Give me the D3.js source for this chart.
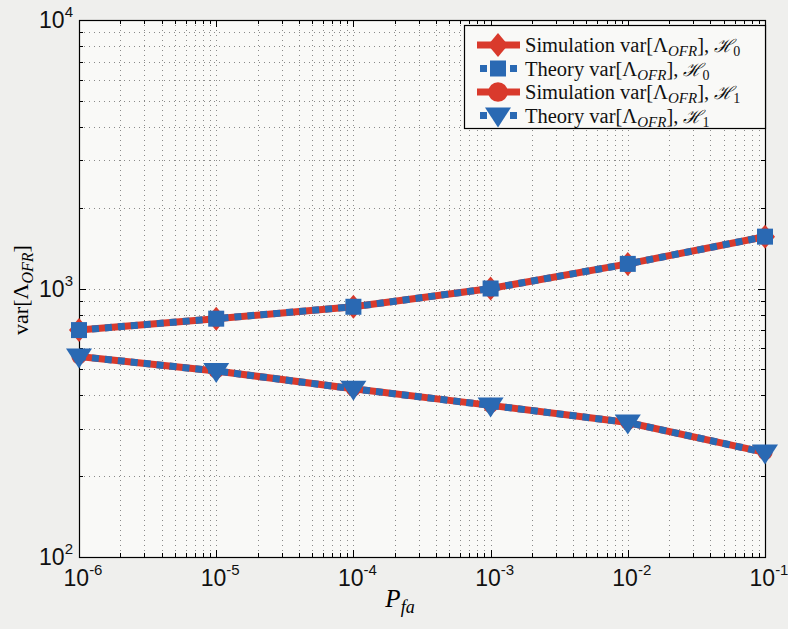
<!DOCTYPE html>
<html>
<head>
<meta charset="utf-8">
<script src="https://cdn.jsdelivr.net/npm/d3@7"></script>
<style>
  body { margin: 0; background: #efefed; }
  svg { display: block; }
</style>
</head>
<body>
<div class="chart"></div>
<script>
//Data
var pfa = [1e-6, 1e-5, 1e-4, 1e-3, 1e-2, 1e-1];
var simH0 = [700, 772, 855, 1000, 1235, 1560];
var theoryH0 = [700, 772, 855, 1000, 1235, 1560];
var simH1 = [558, 493, 423, 367, 317, 245];
var theoryH1 = [558, 493, 423, 367, 317, 245];
var xTickExp = [-6, -5, -4, -3, -2, -1];
var yTickExp = [2, 3, 4];

//Width and height
var w = 788;
var h = 629;
var plotL = 79, plotR = 765, plotT = 20, plotB = 557;

var red = "#d93a2c";
var blue = "#2a69b3";

var svg = d3.select(".chart")
    .append("svg")
    .attr("width", w)
    .attr("height", h);

//Scales
var xScale = d3.scaleLog().domain([1e-6, 1e-1]).range([plotL, plotR]);
var yScale = d3.scaleLog().domain([1e2, 1e4]).range([plotB, plotT]);

//Plot background
svg.append("rect")
    .attr("x", plotL).attr("y", plotT)
    .attr("width", plotR - plotL).attr("height", plotB - plotT)
    .attr("fill", "#f9f9f7");

//Minor and major values for the grid
var xAll = [];
for (var e = -6; e < -1; e++) for (var m = 1; m <= 9; m++) xAll.push(m * Math.pow(10, e));
xAll.push(1e-1);
var yAll = [];
for (var e2 = 2; e2 < 4; e2++) for (var m2 = 1; m2 <= 9; m2++) yAll.push(m2 * Math.pow(10, e2));
yAll.push(1e4);

var grid = svg.append("g").attr("stroke", "#8a8a8a").attr("stroke-width", 1).attr("stroke-dasharray", "1,4");
grid.selectAll(".gx").data(xAll.slice(1, -1)).enter().append("line")
    .attr("x1", d => Math.round(xScale(d)) + 0.5).attr("x2", d => Math.round(xScale(d)) + 0.5)
    .attr("y1", plotT).attr("y2", plotB);
grid.selectAll(".gy").data(yAll.slice(1, -1)).enter().append("line")
    .attr("y1", d => Math.round(yScale(d)) + 0.5).attr("y2", d => Math.round(yScale(d)) + 0.5)
    .attr("x1", plotL).attr("x2", plotR);

//Axes with inward ticks on all sides
function isMajor(v) { var l = Math.log10(v); return Math.abs(l - Math.round(l)) < 1e-9; }
function tickLen(v) { return isMajor(v) ? 7 : 4; }

var ticks = svg.append("g").attr("stroke", "#000").attr("stroke-width", 1);
xAll.forEach(function (v) {
    var x = Math.round(xScale(v)) + 0.5;
    ticks.append("line").attr("x1", x).attr("x2", x).attr("y1", plotB).attr("y2", plotB - tickLen(v));
    ticks.append("line").attr("x1", x).attr("x2", x).attr("y1", plotT).attr("y2", plotT + tickLen(v));
});
yAll.forEach(function (v) {
    var y = Math.round(yScale(v)) + 0.5;
    ticks.append("line").attr("y1", y).attr("y2", y).attr("x1", plotL).attr("x2", plotL + tickLen(v));
    ticks.append("line").attr("y1", y).attr("y2", y).attr("x1", plotR).attr("x2", plotR - tickLen(v));
});

svg.append("rect")
    .attr("x", plotL + 0.5).attr("y", plotT + 0.5)
    .attr("width", plotR - plotL).attr("height", plotB - plotT)
    .attr("fill", "none").attr("stroke", "#000").attr("stroke-width", 1.2);

//Tick labels 10^n
function powerLabel(g, n) {
    var t = g.append("text")
        .attr("font-family", "Liberation Sans, Arial, sans-serif")
        .attr("font-size", 23)
        .attr("fill", "#111");
    t.append("tspan").text("10");
    t.append("tspan").attr("dy", -11).attr("font-size", 15).text(n);
    return t;
}

xTickExp.forEach(function (n) {
    var g = svg.append("g").attr("transform", "translate(" + xScale(Math.pow(10, n)) + "," + 586 + ")");
    powerLabel(g, n).attr("text-anchor", "middle").attr("x", 4);
});
yTickExp.forEach(function (n) {
    var g = svg.append("g").attr("transform", "translate(" + 73 + "," + (yScale(Math.pow(10, n)) + 8) + ")");
    powerLabel(g, n).attr("text-anchor", "end");
});

//Axis titles
var xl = svg.append("text")
    .attr("x", 400).attr("y", 607)
    .attr("text-anchor", "middle")
    .attr("font-family", "Liberation Serif, serif")
    .attr("font-style", "italic")
    .attr("font-size", 25);
xl.append("tspan").text("P");
xl.append("tspan").attr("dy", 6).attr("font-size", 18).text("fa");

var yl = svg.append("text")
    .attr("transform", "translate(28," + 290 + ") rotate(-90)")
    .attr("text-anchor", "middle")
    .attr("font-family", "Liberation Serif, serif")
    .attr("font-size", 22);
yl.append("tspan").text("var[Λ");
yl.append("tspan").attr("dy", 5).attr("font-size", 16).attr("font-style", "italic").text("OFR");
yl.append("tspan").attr("dy", -5).text("]");

//Series
var series = [
    { vals: simH0, color: red, dash: null, marker: "diamond" },
    { vals: theoryH0, color: blue, dash: "7,6", marker: "square" },
    { vals: simH1, color: red, dash: null, marker: "circle" },
    { vals: theoryH1, color: blue, dash: "7,6", marker: "triangle" }
];

var line = d3.line().x(d => xScale(d[0])).y(d => yScale(d[1]));

function markerPath(type) {
    if (type === "diamond") return "M0,-12L10,0L0,12L-10,0Z";
    if (type === "square") return "M-8,-8L8,-8L8,8L-8,8Z";
    if (type === "triangle") return "M-13,-8L13,-8L0,12Z";
    if (type === "bigcircle") return d3.symbol(d3.symbolCircle, 300)();
    return d3.symbol(d3.symbolCircle, 180)();
}

series.forEach(function (s) {
    var pts = pfa.map((p, i) => [p, s.vals[i]]);
    svg.append("path")
        .datum(pts)
        .attr("d", line)
        .attr("fill", "none")
        .attr("stroke", s.color)
        .attr("stroke-width", 7)
        .attr("stroke-dasharray", s.dash);
    svg.selectAll(null)
        .data(pts)
        .enter()
        .append("path")
        .attr("transform", d => "translate(" + xScale(d[0]) + "," + yScale(d[1]) + ")")
        .attr("d", markerPath(s.marker))
        .attr("fill", s.color);
});

//Legend
var lx = 464, ly = 25, lw = 301, lh = 103;
svg.append("rect")
    .attr("x", lx + 0.5).attr("y", ly + 0.5)
    .attr("width", lw).attr("height", lh)
    .attr("fill", "#f9f9f7").attr("stroke", "#000").attr("stroke-width", 1.2);

var labels = [["Simulation", "0"], ["Theory", "0"], ["Simulation", "1"], ["Theory", "1"]];
series.forEach(function (s, i) {
    var y = 45 + i * 23.5;
    svg.append("line")
        .attr("x1", 477).attr("x2", 520).attr("y1", y).attr("y2", y)
        .attr("stroke", s.color).attr("stroke-width", 7)
        .attr("stroke-dasharray", s.dash ? "7,8" : null)
        .attr("stroke-dashoffset", s.dash ? "-3" : null);
    svg.append("path")
        .attr("transform", "translate(498," + y + ")")
        .attr("d", markerPath(s.marker === "circle" ? "bigcircle" : s.marker))
        .attr("fill", s.color);
    var t = svg.append("text")
        .attr("x", 525).attr("y", y + 7)
        .attr("font-family", "Liberation Serif, serif")
        .attr("font-size", 20.5)
        .attr("fill", "#111");
    t.append("tspan").text(labels[i][0] + " var[Λ");
    t.append("tspan").attr("dy", 4).attr("font-size", 15).attr("font-style", "italic").text("OFR");
    t.append("tspan").attr("dy", -4).text("], ");
    t.append("tspan").attr("font-family", "DejaVu Serif, serif").attr("font-style", "italic").attr("font-size", 18).text("ℋ");
    t.append("tspan").attr("dy", 4).attr("font-size", 14).text(labels[i][1]);
});
</script>
</body>
</html>
